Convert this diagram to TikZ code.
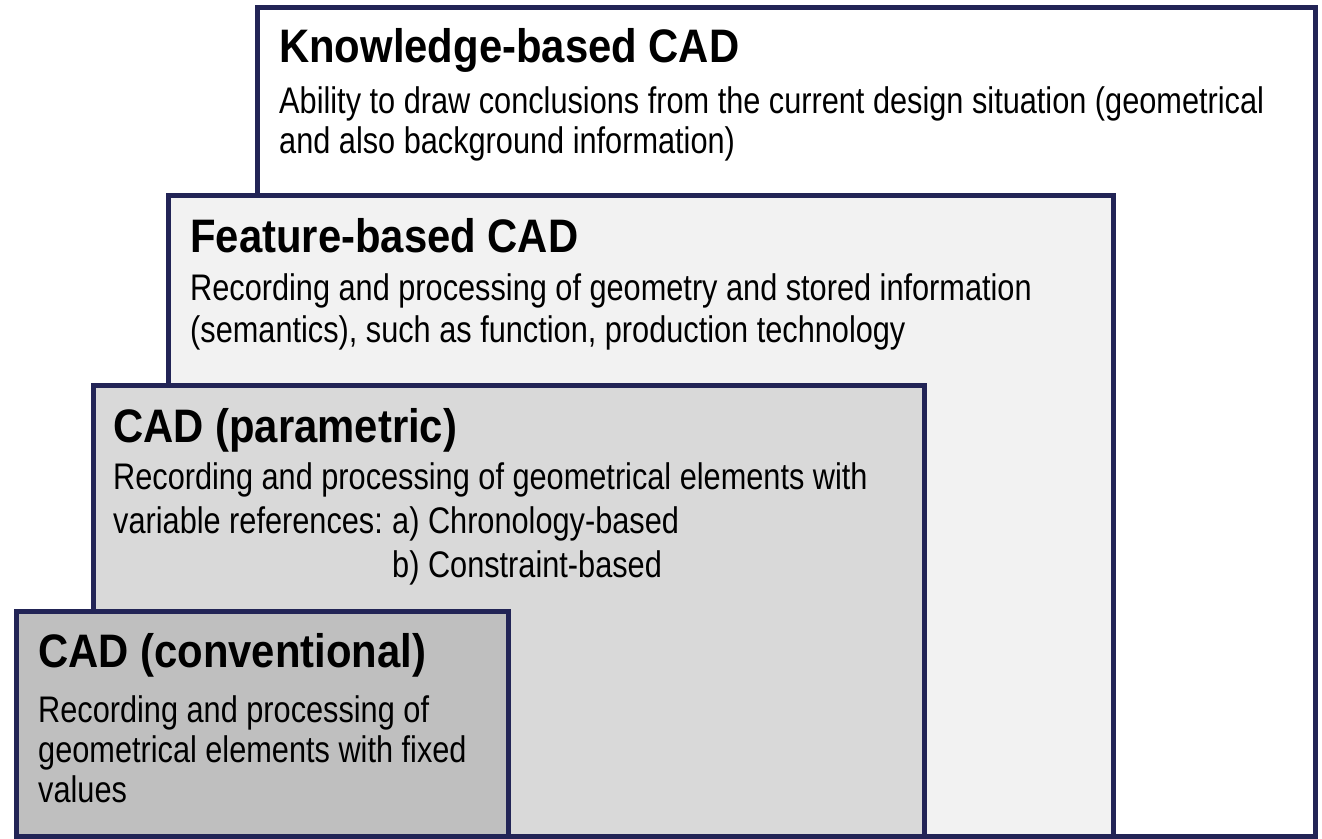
\documentclass[tikz,border=0pt]{standalone}
\usepackage{fontspec}
\setmainfont{Liberation Sans}[FakeStretch=0.83]
\newfontfamily\titlefam{Liberation Sans}[FakeStretch=0.89]
\definecolor{navy}{HTML}{222456}
\definecolor{fillF}{HTML}{F2F2F2}
\definecolor{fillP}{HTML}{D9D9D9}
\definecolor{fillC}{HTML}{BFBFBF}
\tikzset{
  layer/.style={draw=navy, line width=5pt},
  title/.style={anchor=base west, inner sep=0pt, font=\titlefam\fontsize{47}{47}\selectfont\bfseries},
  body/.style={anchor=base west, inner sep=0pt, font=\fontsize{37}{40}\selectfont},
}
\begin{document}
\begin{tikzpicture}[x=1pt,y=-1pt]
\useasboundingbox (0,0) rectangle (1322,838);
\fill[white] (0,0) rectangle (1322,838);
% boxes
\draw[layer, fill=white] (257.5,7.5) rectangle (1315.5,836);
\draw[layer, fill=fillF] (168,195.5) rectangle (1113.5,836);
\draw[layer, fill=fillP] (93,385) rectangle (924,836);
\draw[layer, fill=fillC] (16,611) rectangle (508,836);
% Knowledge
\node[title] (kt) at (279,62) {Knowledge-based CAD};
\node[body] (k1) at (279,113) {Ability to draw conclusions from the current design situation (geometrical};
\node[body] (k2) at (279,153) {and also background information)};
% Feature
\node[title] (ft) at (190,252) {Feature-based CAD};
\node[body] (f1) at (190,300) {Recording and processing of geometry and stored information};
\node[body] (f2) at (190,342) {(semantics), such as function, production technology};
% Parametric
\node[title] (pt) at (113,442) {CAD (parametric)};
\node[body] (p1) at (113,489) {Recording and processing of geometrical elements with};
\node[body] (p2) at (113,533) {variable references:};
\node[body] (p3) at (392,533) {a) Chronology-based};
\node[body] (p4) at (392,577) {b) Constraint-based};
% Conventional
\node[title] (ct) at (38,667) {CAD (conventional)};
\node[body] (c1) at (38,722) {Recording and processing of};
\node[body] (c2) at (38,762) {geometrical elements with fixed};
\node[body] (c3) at (38,802) {values};
\end{tikzpicture}
\end{document}
